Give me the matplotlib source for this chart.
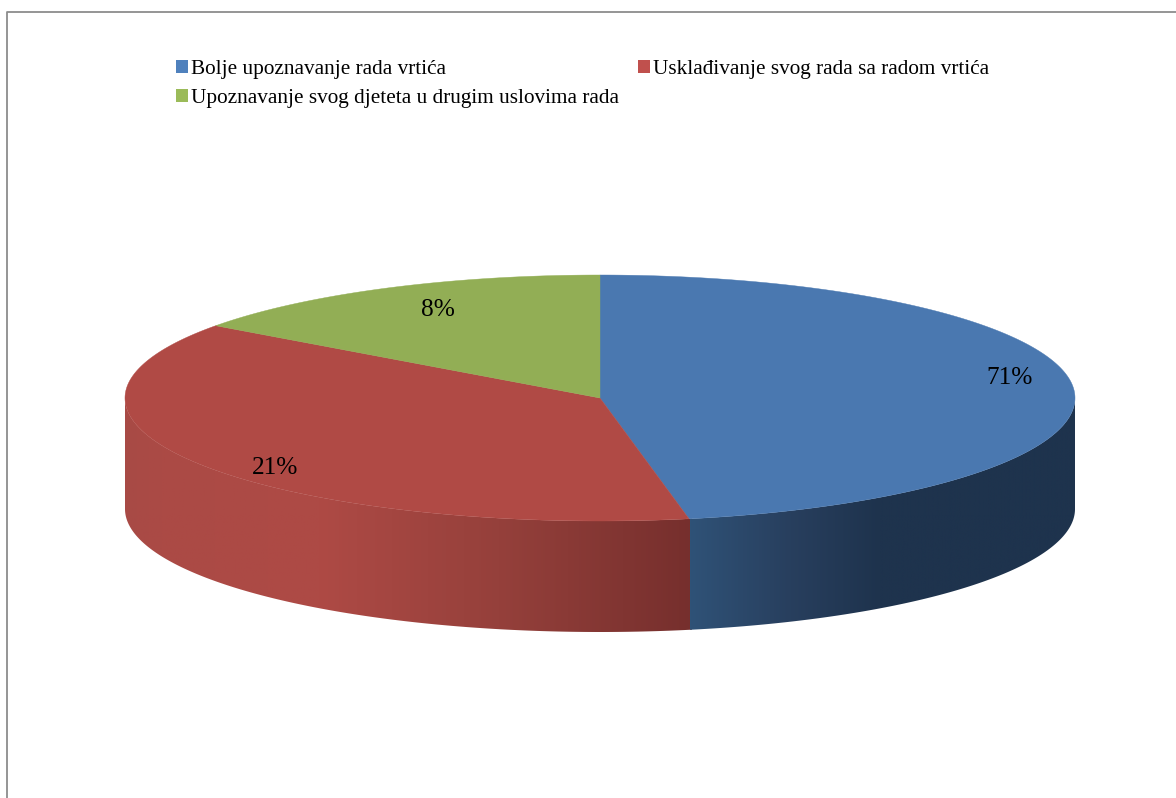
#!/usr/bin/env python3
"""3D-looking pie chart: the top is an ellipse, the rim a shaded extrusion."""
import numpy as np
import matplotlib
matplotlib.use("Agg")
import matplotlib.pyplot as plt
from matplotlib.colors import LinearSegmentedColormap
from matplotlib.patches import Patch, Polygon

plt.rcParams["font.family"] = ["Liberation Serif", "DejaVu Serif"]

categories = ["Bolje upoznavanje rada vrtića",
              "Usklađivanje svog rada sa radom vrtića",
              "Upoznavanje svog djeteta u drugim uslovima rada"]
# the printed labels do not agree with the slice sizes in the original
slice_shares = [47, 38, 15]
value_labels = ["71%", "21%", "8%"]

LEGEND_COLORS = ["#4f81bd", "#c0504d", "#9bbb59"]
TOP_COLORS = ["#4a78b0", "#b04a45", "#92ae55"]
LABEL_POS = [(1010, 378), (275, 468), (438, 310)]

CX, CY, RX, RY, DEPTH = 600, 398, 475, 123, 111

# rim shading, as (x pixel, colour) stops
RIM_STOPS = {
    1: [(124, "#a84a46"), (160, "#ab4a45"), (320, "#ae4a45"), (500, "#95403b"), (692, "#762f2d")],
    0: [(690, "#2f5277"), (790, "#283f5e"), (880, "#1e334d"), (1075, "#1e334d")],
}


def rim_xy(deg):
    t = np.radians(deg)
    return CX + RX * np.sin(t), CY - RY * np.cos(t)


def draw_rim(ax, start, end, stops):
    # visible front part of the rim only (90-270 deg clockwise from the top)
    a0, a1 = max(start, 90), min(end, 270)
    xs, ys = rim_xy(np.linspace(a0, a1, 200))
    outline = np.vstack([np.column_stack([xs, ys]), np.column_stack([xs, ys + DEPTH])[::-1]])
    x0, x1 = stops[0][0], stops[-1][0]
    cmap = LinearSegmentedColormap.from_list(
        "rim", [((x - x0) / (x1 - x0), c) for x, c in stops])
    grad = np.linspace(0, 1, 512).reshape(1, -1)
    im = ax.imshow(grad, cmap=cmap, extent=(x0, x1, CY + RY + DEPTH + 5, CY - 5),
                   aspect="auto", zorder=2)
    clip = Polygon(outline, closed=True, transform=ax.transData, fc="none", ec="none")
    ax.add_patch(clip)
    im.set_clip_path(clip)


fig = plt.figure(figsize=(11.76, 7.98), dpi=100)
ax = fig.add_axes([0, 0, 1, 1])
ax.set_axis_off()

edges = np.concatenate([[0], np.cumsum(slice_shares)]) / np.sum(slice_shares) * 360

# red first and running slightly past the seam, blue on top, so no white gap shows
draw_rim(ax, edges[1] - 1, edges[2], RIM_STOPS[1])
draw_rim(ax, edges[0], edges[1], RIM_STOPS[0])

for i, color in enumerate(TOP_COLORS):
    xs, ys = rim_xy(np.linspace(edges[i], edges[i + 1], 300))
    pts = np.vstack([[CX, CY], np.column_stack([xs, ys])])
    ax.add_patch(Polygon(pts, closed=True, fc=color, ec=color, lw=0.3, zorder=3))

ax.set_xlim(0, 1176)
ax.set_ylim(798, 0)

for txt, (x, y) in zip(value_labels, LABEL_POS):
    ax.text(x, y, txt, fontsize=18.3, ha="center", va="center", color="black", zorder=5)

# window frame: only the top and left edges are visible in the crop
ax.plot([7, 7, 1176], [798, 12, 12], color="#8c8c8c", lw=1.3, zorder=1)

# column-first fill, so the third entry goes under the first
order = [0, 2, 1]
handles = [Patch(fc=LEGEND_COLORS[i], ec="none", label=categories[i]) for i in order]
ax.legend(handles=handles, ncols=2, frameon=False, fontsize=15.3,
          loc="upper left", bbox_to_anchor=(176 / 1176, 1 - 60 / 798),
          bbox_transform=ax.transAxes, borderpad=0, borderaxespad=0,
          handlelength=0.56, handleheight=0.56, handletextpad=0.14,
          columnspacing=0.91, labelspacing=0.47)

fig.savefig("out.png", dpi=100)
